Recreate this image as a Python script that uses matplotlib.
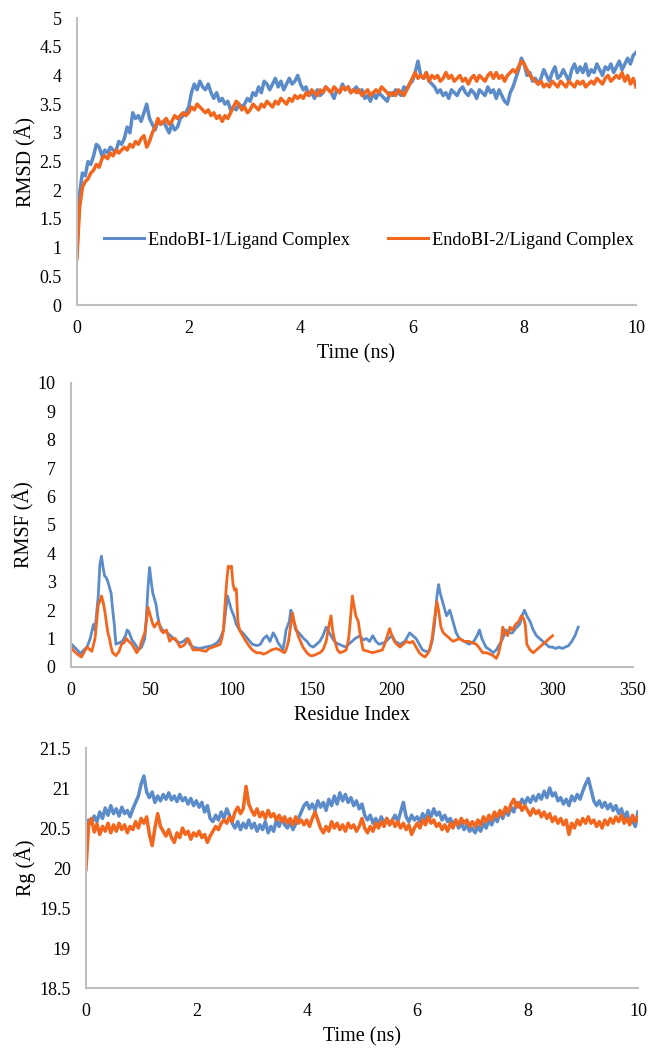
import numpy as np
import matplotlib
matplotlib.use('Agg')
import matplotlib.pyplot as plt
from matplotlib.ticker import FuncFormatter

plt.rcParams['font.family'] = ['Liberation Serif', 'DejaVu Serif']

BLUE = '#5B8BC8'
ORANGE = '#F2661E'
GREY = '#BFBFBF'

label1 = 'EndoBI-1/Ligand Complex'
label2 = 'EndoBI-2/Ligand Complex'

# RMSD (Angstrom), one value every 0.05 ns from 0 to 10 ns
rmsd_1 = [
    0.85, 1.95, 2.3, 2.25, 2.5, 2.45, 2.6, 2.8, 2.75, 2.6, 2.7, 2.65, 2.75, 2.7, 2.68, 2.85, 2.8, 2.9, 3.1, 3.0,
    3.35, 3.25, 3.3, 3.2, 3.35, 3.5, 3.25, 3.15, 3.05, 3.2, 3.15, 3.2, 3.1, 3.0, 3.15, 3.05, 3.1, 3.25, 3.3, 3.35,
    3.45, 3.7, 3.85, 3.75, 3.9, 3.8, 3.75, 3.85, 3.7, 3.6, 3.7, 3.55, 3.6, 3.5, 3.55, 3.4, 3.45, 3.4, 3.5, 3.45,
    3.5, 3.6, 3.55, 3.7, 3.65, 3.8, 3.7, 3.9, 3.85, 3.75, 3.85, 3.95, 3.8, 3.9, 3.75, 3.85, 3.95, 3.85, 3.9, 4.0,
    3.85, 3.75, 3.8, 3.65, 3.7, 3.6, 3.75, 3.65, 3.7, 3.8, 3.75, 3.7, 3.6, 3.75, 3.7, 3.85, 3.75, 3.8, 3.7, 3.75,
    3.8, 3.7, 3.75, 3.6, 3.65, 3.55, 3.7, 3.6, 3.7, 3.65, 3.6, 3.55, 3.7, 3.65, 3.75, 3.7, 3.65, 3.8, 3.75, 3.85,
    3.9, 4.05, 4.25, 4.0, 3.95, 4.05, 3.9, 3.85, 3.8, 3.7, 3.75, 3.65, 3.7, 3.6, 3.75, 3.7, 3.65, 3.75, 3.8, 3.7,
    3.65, 3.75, 3.7, 3.6, 3.75, 3.7, 3.65, 3.8, 3.7, 3.75, 3.6, 3.75, 3.65, 3.55, 3.5, 3.7, 3.8, 3.95, 4.1, 4.3,
    4.2, 4.0, 4.05, 3.9, 3.95, 3.85, 3.95, 4.1, 4.0, 3.9, 4.05, 4.15, 3.95, 4.0, 4.1, 4.0, 3.9, 4.1, 4.2, 4.05,
    4.15, 4.05, 4.2, 4.0, 4.1, 4.05, 4.2, 4.1, 4.0, 4.15, 4.1, 4.2, 4.05, 4.15, 4.25, 4.1, 4.2, 4.3, 4.2, 4.35, 4.4,
]
rmsd_2 = [
    0.8, 1.7, 2.05, 2.15, 2.2, 2.3, 2.35, 2.45, 2.4, 2.55, 2.6, 2.55, 2.65, 2.6, 2.7, 2.65, 2.7, 2.75, 2.7, 2.8,
    2.75, 2.85, 2.8, 2.9, 2.95, 2.75, 2.85, 3.0, 3.1, 3.25, 3.15, 3.2, 3.25, 3.15, 3.2, 3.3, 3.25, 3.3, 3.35, 3.3,
    3.35, 3.45, 3.4, 3.5, 3.45, 3.4, 3.35, 3.4, 3.3, 3.35, 3.25, 3.3, 3.2, 3.3, 3.25, 3.35, 3.45, 3.55, 3.5, 3.4,
    3.45, 3.35, 3.4, 3.5, 3.45, 3.4, 3.5, 3.45, 3.55, 3.5, 3.45, 3.55, 3.5, 3.6, 3.55, 3.5, 3.6, 3.55, 3.65, 3.6,
    3.65, 3.6, 3.7, 3.65, 3.75, 3.7, 3.65, 3.75, 3.7, 3.8, 3.75, 3.7, 3.8, 3.75, 3.7, 3.8, 3.75, 3.8, 3.7, 3.75,
    3.7, 3.75, 3.65, 3.7, 3.75, 3.65, 3.7, 3.75, 3.7, 3.8, 3.75, 3.7, 3.65, 3.7, 3.65, 3.75, 3.7, 3.65, 3.75, 3.85,
    3.95, 4.05, 3.95, 4.0, 3.95, 4.05, 3.9, 4.0, 3.95, 4.0, 3.9, 3.95, 4.05, 3.95, 4.0, 3.9, 3.95, 4.0, 3.9, 3.95,
    3.85, 3.95, 4.0, 3.9, 4.0, 3.95, 3.9, 4.0, 4.05, 3.95, 4.05, 3.95, 4.0, 3.9, 4.0, 4.05, 4.1, 4.05, 4.15, 4.25,
    4.2, 4.1, 4.0, 3.95, 3.9, 3.85, 3.9, 3.8, 3.85, 3.8, 3.9, 3.85, 3.8, 3.9, 3.85, 3.8, 3.9, 3.85, 3.8, 3.9,
    3.85, 3.9, 3.8, 3.85, 3.9, 3.85, 3.95, 3.9, 3.85, 3.95, 4.0, 3.9, 3.95, 4.0, 3.95, 4.05, 3.9, 4.0, 3.85, 3.95, 3.8,
]

# RMSF per residue
res_1 = [0, 3, 6, 8, 10, 12, 14, 15, 17, 18, 19, 20, 21, 22, 23, 24, 25, 26, 27, 28, 30, 32, 34, 35, 36, 38, 40,
         42, 44, 46, 47, 48, 49, 50, 51, 52, 53, 54, 55, 57, 60, 62, 64, 66, 68, 70, 72, 74, 76, 80, 84, 88, 91,
         93, 95, 96, 97.5, 99, 100, 101.5, 103, 105, 107, 110, 113, 116, 118, 120, 122, 124, 126, 128, 129, 131,
         132, 133, 134, 136, 137, 138, 140, 142, 145, 147, 149, 151, 153, 155, 157, 159, 161, 163, 165, 167, 169,
         171, 173, 175, 177, 180, 182, 184, 186, 188, 190, 192, 195, 198, 200, 202, 205, 208, 211, 213, 215, 217,
         219, 221, 223, 225, 226.5, 228, 229, 230, 231, 233, 234, 236, 238, 240, 242, 245, 248, 251, 253, 254.5,
         256, 258.5, 261, 263, 265, 267, 269, 271, 273, 275, 277, 279.5, 281, 282.5, 284, 286, 288, 290, 292, 294,
         296, 298, 300, 302, 304, 306, 308, 310, 312, 314, 316]
rmsf_1 = [0.82, 0.65, 0.47, 0.6, 0.7, 1.0, 1.5, 1.3, 2.5, 3.6, 3.9, 3.5, 3.2, 3.15, 3.0, 2.8, 2.6, 2.0, 1.5, 0.8,
          0.85, 0.9, 1.1, 1.3, 1.25, 0.95, 0.8, 0.6, 0.7, 1.0, 1.8, 2.8, 3.5, 3.0, 2.6, 2.4, 2.2, 1.8, 1.5, 1.3,
          1.2, 1.1, 1.0, 0.9, 0.85, 0.9, 1.0, 0.8, 0.7, 0.65, 0.7, 0.75, 0.85, 1.0, 1.3, 1.8, 2.5, 2.2, 2.0, 1.8,
          1.5, 1.3, 1.2, 1.0, 0.8, 0.75, 0.8, 1.0, 1.1, 0.9, 1.2, 1.0, 0.85, 0.7, 0.6, 0.9, 1.3, 1.6, 2.0, 1.8,
          1.3, 1.2, 1.0, 0.9, 0.75, 0.7, 0.8, 0.9, 1.1, 1.4, 1.2, 1.0, 0.85, 0.8, 0.75, 0.7, 0.8, 0.9, 1.0, 1.1,
          0.95, 1.0, 0.9, 1.1, 0.9, 0.8, 0.85, 1.0, 1.1, 0.9, 0.8, 0.9, 1.2, 1.1, 1.0, 0.8, 0.6, 0.55, 0.55, 0.9,
          1.5, 2.5, 2.9, 2.6, 2.4, 2.0, 1.8, 2.0, 1.6, 1.2, 1.0, 0.9, 0.8, 0.9, 1.1, 1.3, 1.0, 0.7, 0.6, 0.5,
          0.6, 0.8, 1.0, 1.3, 1.2, 1.2, 1.35, 1.5, 1.8, 2.0, 1.8, 1.6, 1.3, 1.1, 1.0, 0.9, 0.8, 0.7, 0.7, 0.65,
          0.7, 0.65, 0.7, 0.75, 0.9, 1.1, 1.4]
res_2 = [0, 2, 4, 6.5, 8, 10, 12, 13, 15, 16, 17, 18, 19, 20, 21, 22, 23, 24, 25, 26, 28, 30, 31.5, 33, 34.5, 36,
         38, 40, 41, 43, 44, 46, 47, 48, 49, 50, 51, 52, 53, 54.5, 56, 57.5, 59.5, 61.5, 63, 65, 67, 68, 70, 71,
         73, 74, 76, 80, 84, 86, 88.5, 91, 93, 94, 95, 96, 97, 98, 99, 100, 101, 102, 103, 104, 105, 107, 109,
         111.5, 113, 115.5, 118, 120, 122, 125, 128, 130, 133, 134, 135.5, 137, 138, 139, 141.5, 143, 144.5, 147,
         149, 151, 153, 155, 157, 159, 160.5, 162, 163, 164, 166, 167.5, 170, 171.5, 173, 174, 175.3, 176.5,
         177.5, 179, 180, 182, 185, 188, 191, 194, 196, 198.5, 200, 201.5, 203, 205, 207, 209, 211, 213, 215,
         217, 219, 220.5, 222, 223.5, 225, 226, 228, 229, 230.5, 232, 234, 236, 238, 240, 242, 245, 248, 250,
         252.5, 254, 256.5, 259, 261, 263, 265, 266.5, 268, 269, 270.5, 272, 273.5, 275, 277, 279, 280.5, 282,
         283, 284, 286, 288, 290, 292, 294, 296, 298, 300]
rmsf_2 = [0.7, 0.55, 0.45, 0.35, 0.5, 0.7, 0.6, 0.55, 1.0, 1.6, 2.2, 2.3, 2.5, 2.3, 2.0, 1.6, 1.2, 1.0, 0.7, 0.5,
          0.4, 0.55, 0.8, 0.85, 1.0, 0.9, 0.8, 0.6, 0.5, 0.7, 0.9, 1.2, 1.6, 2.1, 1.9, 1.7, 1.5, 1.4, 1.5, 1.6,
          1.3, 1.2, 1.3, 0.9, 1.0, 1.0, 0.8, 0.7, 0.75, 0.8, 1.0, 0.9, 0.6, 0.6, 0.55, 0.65, 0.7, 0.75, 0.8, 1.0,
          1.3, 2.2, 3.0, 3.55, 3.5, 3.55, 2.9, 2.7, 2.75, 1.6, 1.3, 1.1, 0.9, 0.7, 0.6, 0.5, 0.5, 0.45, 0.5, 0.6,
          0.65, 0.6, 0.5, 0.6, 0.9, 1.5, 1.9, 1.6, 1.1, 0.9, 0.7, 0.5, 0.4, 0.4, 0.45, 0.5, 0.6, 0.9, 1.4, 1.8,
          1.3, 1.0, 0.6, 0.5, 0.55, 0.6, 1.0, 1.6, 2.5, 2.1, 1.8, 1.6, 1.2, 0.6, 0.55, 0.5, 0.55, 0.6, 0.9, 1.35,
          1.1, 0.9, 0.8, 0.7, 0.8, 0.9, 0.85, 0.9, 0.7, 0.5, 0.4, 0.35, 0.45, 0.6, 1.0, 1.5, 2.3, 2.0, 1.4, 1.2,
          1.1, 1.0, 0.9, 0.95, 1.0, 0.9, 0.9, 0.85, 0.8, 0.7, 0.5, 0.5, 0.45, 0.4, 0.3, 0.5, 0.9, 1.4, 1.2, 1.1,
          1.4, 1.3, 1.5, 1.6, 1.8, 1.7, 1.5, 0.8, 0.6, 0.5, 0.6, 0.7, 0.8, 0.9, 1.0, 1.1]

# Radius of gyration (Angstrom), one value every 0.05 ns
rg_1 = [
    20.45, 20.6, 20.55, 20.65, 20.58, 20.7, 20.62, 20.75, 20.66, 20.78, 20.68, 20.74, 20.65, 20.76, 20.68, 20.72, 20.64, 20.74, 20.82, 20.9,
    21.05, 21.15, 20.95, 20.88, 20.95, 20.82, 20.9, 20.84, 20.92, 20.86, 20.94, 20.85, 20.9, 20.83, 20.92, 20.84, 20.88, 20.8, 20.87, 20.78,
    20.84, 20.76, 20.82, 20.7, 20.78, 20.62, 20.58, 20.66, 20.6, 20.7, 20.62, 20.74, 20.66, 20.56, 20.5, 20.58, 20.48, 20.56, 20.5, 20.6,
    20.5, 20.56, 20.46, 20.54, 20.48, 20.58, 20.44, 20.52, 20.46, 20.6, 20.52, 20.62, 20.54, 20.5, 20.58, 20.48, 20.55, 20.62, 20.7, 20.78,
    20.82, 20.74, 20.8, 20.72, 20.84, 20.76, 20.82, 20.72, 20.86, 20.78, 20.9, 20.8, 20.94, 20.84, 20.92, 20.82, 20.88, 20.78, 20.84, 20.74,
    20.8, 20.66, 20.6, 20.66, 20.56, 20.62, 20.54, 20.64, 20.56, 20.62, 20.54, 20.6, 20.66, 20.58, 20.7, 20.82, 20.64, 20.58, 20.66, 20.6,
    20.64, 20.58, 20.68, 20.6, 20.72, 20.64, 20.74, 20.66, 20.7, 20.6, 20.66, 20.58, 20.62, 20.54, 20.6, 20.5, 20.56, 20.48, 20.54, 20.46,
    20.5, 20.44, 20.52, 20.46, 20.56, 20.5, 20.6, 20.54, 20.64, 20.58, 20.7, 20.62, 20.72, 20.66, 20.76, 20.7, 20.82, 20.76, 20.86, 20.8,
    20.88, 20.82, 20.9, 20.84, 20.92, 20.86, 20.96, 20.88, 21.0, 20.9, 20.94, 20.84, 20.88, 20.8, 20.86, 20.78, 20.9, 20.84, 20.92, 20.86,
    20.96, 21.05, 21.12, 20.98, 20.84, 20.78, 20.84, 20.76, 20.82, 20.74, 20.8, 20.72, 20.78, 20.68, 20.74, 20.62, 20.7, 20.56, 20.6, 20.52, 20.7,
]
rg_2 = [
    19.98, 20.55, 20.62, 20.45, 20.55, 20.42, 20.52, 20.46, 20.56, 20.44, 20.54, 20.46, 20.56, 20.48, 20.54, 20.44, 20.52, 20.48, 20.58, 20.5,
    20.62, 20.56, 20.64, 20.42, 20.28, 20.5, 20.68, 20.52, 20.46, 20.4, 20.48, 20.38, 20.32, 20.44, 20.38, 20.5, 20.42, 20.46, 20.36, 20.44,
    20.4, 20.46, 20.38, 20.42, 20.32, 20.4, 20.46, 20.52, 20.48, 20.56, 20.6, 20.56, 20.64, 20.58, 20.7, 20.76, 20.68, 20.74, 21.02, 20.8,
    20.72, 20.66, 20.74, 20.64, 20.7, 20.62, 20.72, 20.64, 20.68, 20.6, 20.66, 20.58, 20.64, 20.56, 20.62, 20.54, 20.64, 20.56, 20.6, 20.54,
    20.6, 20.52, 20.62, 20.7, 20.6, 20.5, 20.44, 20.52, 20.46, 20.58, 20.5, 20.56, 20.48, 20.54, 20.46, 20.56, 20.5, 20.54, 20.46, 20.52,
    20.62, 20.5, 20.44, 20.52, 20.46, 20.56, 20.5, 20.58, 20.52, 20.62, 20.54, 20.6, 20.52, 20.58, 20.5, 20.56, 20.48, 20.54, 20.42, 20.5,
    20.56, 20.5, 20.6, 20.54, 20.64, 20.56, 20.6, 20.52, 20.56, 20.48, 20.54, 20.46, 20.56, 20.5, 20.6, 20.54, 20.62, 20.56, 20.6, 20.52,
    20.58, 20.52, 20.6, 20.54, 20.64, 20.58, 20.66, 20.6, 20.7, 20.64, 20.72, 20.66, 20.76, 20.7, 20.8, 20.86, 20.76, 20.82, 20.72, 20.78,
    20.72, 20.66, 20.74, 20.68, 20.72, 20.64, 20.7, 20.62, 20.68, 20.58, 20.64, 20.56, 20.62, 20.54, 20.6, 20.42, 20.56, 20.5, 20.6, 20.54,
    20.62, 20.56, 20.64, 20.56, 20.6, 20.52, 20.58, 20.5, 20.6, 20.54, 20.62, 20.56, 20.64, 20.58, 20.66, 20.56, 20.62, 20.54, 20.66, 20.58, 20.64,
]


def style_axes(ax):
    for side in ['top', 'right']:
        ax.spines[side].set_visible(False)
    for side in ['left', 'bottom']:
        ax.spines[side].set_color(GREY)
        ax.spines[side].set_linewidth(1.5)
    ax.tick_params(length=0, pad=11, labelsize=13, colors='black')


fig = plt.figure(figsize=(6.51, 10.5), dpi=100)

# RMSD
ax1 = fig.add_axes([0.118, 0.7095, 0.859, 0.2733])
t1 = np.linspace(0, 10, len(rmsd_1))
t2 = np.linspace(0, 10, len(rmsd_2))
ax1.plot(t1, rmsd_1, color=BLUE, lw=2.5, label=label1)
ax1.plot(t2, rmsd_2, color=ORANGE, lw=2.5, label=label2)
ax1.set_xlim(0, 10)
ax1.set_ylim(0, 5)
ax1.set_xticks(np.arange(0, 11, 2))
ax1.set_yticks(np.arange(0, 5.01, 0.5))
ax1.yaxis.set_major_formatter(FuncFormatter(lambda v, p: '%g' % v))
ax1.set_xlabel('Time (ns)', fontsize=14.5, labelpad=5)
ax1.set_ylabel('RMSD (Å)', fontsize=14.5, labelpad=2)
style_axes(ax1)
leg = ax1.legend(loc='center', bbox_to_anchor=(0.522, 0.226), ncol=2, frameon=False, fontsize=13.2,
                 handlelength=2.2, handletextpad=0.2, columnspacing=2.1)
for h in leg.get_lines():
    h.set_linewidth(2.2)

# RMSF
ax2 = fig.add_axes([0.109, 0.3648, 0.863, 0.2705])
ax2.plot(res_1, rmsf_1, color=BLUE, lw=2.0)
ax2.plot(res_2, rmsf_2, color=ORANGE, lw=2.0)
ax2.set_xlim(0, 350)
ax2.set_ylim(0, 10)
ax2.set_xticks(np.arange(0, 351, 50))
ax2.set_yticks(np.arange(0, 11, 1))
ax2.set_xlabel('Residue Index', fontsize=14.5, labelpad=5)
ax2.set_ylabel('RMSF (Å)', fontsize=14.5, labelpad=2)
style_axes(ax2)

# Rg
ax3 = fig.add_axes([0.132, 0.059, 0.848, 0.2286])
tr1 = np.linspace(0, 10, len(rg_1))
tr2 = np.linspace(0, 10, len(rg_2))
ax3.plot(tr1, rg_1, color=BLUE, lw=2.5)
ax3.plot(tr2, rg_2, color=ORANGE, lw=2.5)
ax3.set_xlim(0, 10)
ax3.set_ylim(18.5, 21.5)
ax3.set_xticks(np.arange(0, 11, 2))
ax3.set_yticks(np.arange(18.5, 21.51, 0.5))
ax3.yaxis.set_major_formatter(FuncFormatter(lambda v, p: '%g' % v))
ax3.set_xlabel('Time (ns)', fontsize=14.5, labelpad=5)
ax3.set_ylabel('Rg (Å)', fontsize=14.5, labelpad=2)
style_axes(ax3)

fig.savefig('out.png', dpi=100)
